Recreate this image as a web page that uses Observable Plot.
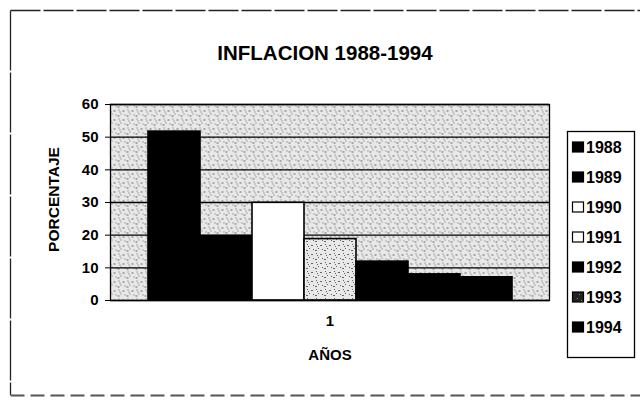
<!DOCTYPE html>
<html><head><meta charset="utf-8">
<script src="https://cdn.jsdelivr.net/npm/d3@7"></script>
<script src="https://cdn.jsdelivr.net/npm/@observablehq/plot@0.6"></script>
<style>
body{margin:0;background:#fff;}
#chart{position:relative;width:640px;height:409px;}
</style></head><body><div id="chart"></div>
<script>
const years = ["1988","1989","1990","1991","1992","1993","1994"];
const inflation = [51.7, 19.7, 29.9, 18.8, 11.9, 8.0, 7.1];
const yTicks = [0,10,20,30,40,50,60];
const fills = ["#000","#000","#fff","url(#stipple)","#000","#000","#000"];
const legendFills = ["#000","#000","#fff","#fff","#000","url(#stippleDark)","#000"];
const title = ["INFLACION 1988-1994"];
const yLabel = ["PORCENTAJE"];
const xLabel = ["AÑOS"];
const category = ["1"];

const data = years.map((y,i)=>({year:y, value:inflation[i]}));
const font = "'Liberation Sans', Arial, sans-serif";

const plot = Plot.plot({
  width:640, height:409,
  marginLeft:110, marginRight:91, marginTop:104, marginBottom:109,
  style:{fontFamily:font, background:"transparent", color:"#000"},
  x:{domain:years, paddingInner:0, paddingOuter:0.71, axis:null},
  y:{domain:[0,60], axis:null},
  color:{domain:years, range:fills},
  marks:[
    Plot.frame({fill:"url(#stipple)", stroke:"none"}),
    Plot.gridY(yTicks, {stroke:"#000", strokeOpacity:1, strokeWidth:1.3}),
    Plot.barY(data, {x:"year", y:"value", fill:"year", stroke:"#000", strokeWidth:1.6}),
    Plot.frame({stroke:"#000", strokeWidth:1.3}),
    Plot.axisY(yTicks, {tickSize:5, tickPadding:7, fontSize:15, fontWeight:"bold", label:null, stroke:"#000"}),
    Plot.text(category, {text:d=>d, frameAnchor:"bottom", dy:25, fontSize:15, fontWeight:"bold", fill:"#000"}),
    Plot.text(xLabel, {text:d=>d, frameAnchor:"bottom", dy:59, fontSize:15, fontWeight:"bold", fill:"#000"}),
    Plot.text(yLabel, {text:d=>d, frameAnchor:"left", textAnchor:"middle", dx:-56, dy:-3, rotate:-90, fontSize:15.5, fontWeight:"bold", fill:"#000"}),
    Plot.text(title, {text:d=>d, frameAnchor:"top", dy:-59, dx:-5, fontSize:20.5, fontWeight:"bold", fill:"#000"})
  ]
});

const svg = d3.select(plot);
const defs = svg.insert("defs", ":first-child");
function stipple(id, base, dot, pts){
  const p = defs.append("pattern").attr("id", id).attr("patternUnits","userSpaceOnUse")
    .attr("width", 9).attr("height", 9);
  p.append("rect").attr("width", 9).attr("height", 9).attr("fill", base);
  pts.forEach(([x,y,w])=>p.append("rect").attr("x",x).attr("y",y).attr("width",w).attr("height",1).attr("fill",dot));
}
stipple("stipple", "#e8e8e8", "#666", [[1,1,1],[5,2,2],[3,5,1],[7,6,1],[0,7,2],[2,3,1]]);
stipple("stippleDark", "#222", "#888", [[1,1,1],[5,3,1],[3,6,1]]);

// outer border of the chart area
const border = svg.append("g").attr("fill","none").attr("stroke","#222").attr("stroke-width",1.3);
border.append("line").attr("x1",10.5).attr("y1",10.5).attr("x2",640).attr("y2",10.5).attr("stroke-dasharray","30 3");
border.append("line").attr("x1",10.5).attr("y1",10.5).attr("x2",10.5).attr("y2",395).attr("stroke-dasharray","60 2");
border.append("line").attr("x1",10.5).attr("y1",395.5).attr("x2",640).attr("y2",395.5).attr("stroke-dasharray","14 6").attr("stroke","#555").attr("stroke-width",2);

// legend
const lg = svg.append("g").attr("font-family", font).attr("font-size", 16).attr("font-weight","bold").attr("text-anchor","start");
lg.append("rect").attr("x",567.5).attr("y",131.5).attr("width",67).attr("height",226)
  .attr("fill","#fff").attr("stroke","#000").attr("stroke-width",1.3);
years.forEach((yr,i)=>{
  const yy = 147 + i*30;
  lg.append("rect").attr("x",572.5).attr("y",yy-5).attr("width",11).attr("height",10)
    .attr("fill",legendFills[i]).attr("stroke","#000").attr("stroke-width",1.2);
  lg.append("text").attr("x",586).attr("y",yy).attr("dy","0.35em").attr("fill","#000").text(yr);
});

document.getElementById("chart").appendChild(plot);
</script></body></html>
